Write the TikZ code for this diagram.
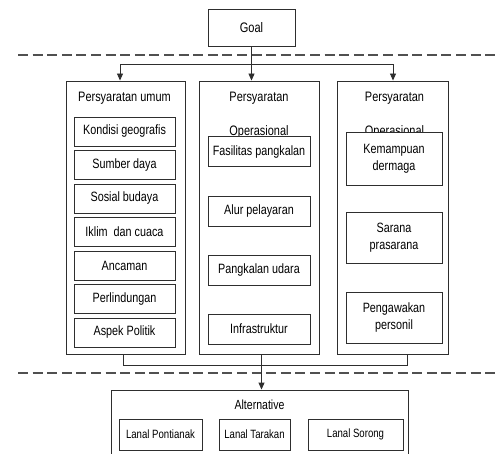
\documentclass[tikz,border=0pt]{standalone}
\usepackage{fontspec}
\setmainfont{Liberation Sans}[FakeStretch=0.8]
\usetikzlibrary{arrows.meta}
\definecolor{linec}{HTML}{2E2E2E}
\definecolor{dashc}{HTML}{505050}
\begin{document}
\begin{tikzpicture}[x=1pt,y=-1pt,
  box/.style={draw=linec, line width=0.9pt, fill=white, inner sep=0pt, align=center,
    font=\fontsize{13.5}{17}\selectfont},
  hdr/.style={inner sep=0pt, anchor=base, font=\fontsize{13.7}{16}\selectfont},
  conn/.style={draw=linec, line width=0.9pt},
  arr/.style={conn, -{Triangle[length=7pt,width=6pt]}},
  dashline/.style={draw=dashc, line width=1.8pt, dash pattern=on 10pt off 4.6pt}]
\useasboundingbox (0,0) rectangle (500,454);
\clip (0,0) rectangle (500,454);

% dashed separators
\coordinate (d1a) at (18,55); \coordinate (d1b) at (500,55);
\coordinate (d2a) at (18,373); \coordinate (d2b) at (500,373);
\draw[dashline] (d1a) -- (d1b);
\draw[dashline] (d2a) -- (d2b);

% goal
\node[box, minimum width=87pt, minimum height=37pt, font=\fontsize{13.8}{16}\selectfont] (goal) at (251.5,27.5) {Goal};

% columns
\node[box, minimum width=119pt, minimum height=273pt] (col1) at (125.5,217.5) {};
\node[box, minimum width=120pt, minimum height=273pt] (col2) at (259,217.5) {};
\node[box, minimum width=111pt, minimum height=273pt] (col3) at (392.5,217.5) {};

\node[hdr] (h1) at (124.5,102) {Persyaratan umum};
\node[hdr] (h2) at (259,102) {Persyaratan};
\node[hdr] (h2b) at (259,135.5) {Operasional};
\node[hdr] (h3) at (394.5,102) {Persyaratan};
\node[hdr] (h3b) at (394.5,135.5) {Operasional};

% column 1 items
\foreach \t/\y [count=\i] in {Kondisi geografis/131.5, Sumber daya/165, Sosial budaya/198.5,
  Iklim\ \ dan cuaca/232, Ancaman/265.5, Perlindungan/299, Aspek Politik/332.5}
  \node[box, minimum width=101pt, minimum height=29pt] (a\i) at (124.5,\y) {\t};

% column 2 items
\foreach \t/\y [count=\i] in {Fasilitas pangkalan/151.7, Alur pelayaran/211.5,
  Pangkalan udara/270.5, Infrastruktur/329}
  \node[box, minimum width=102pt, minimum height=30pt] (b\i) at (259,\y) {\t};

% column 3 items
\node[box, minimum width=96pt, minimum height=53pt] (c1) at (394,158.5) {Kemampuan\\dermaga};
\node[box, minimum width=96pt, minimum height=51pt] (c2) at (394,238) {Sarana\\prasarana};
\node[box, minimum width=96pt, minimum height=51pt] (c3) at (394,317.5) {Pengawakan\\personil};

% alternative
\node[box, minimum width=297pt, minimum height=90pt] (alt) at (259.5,435) {};
\node[hdr, font=\fontsize{13.2}{16}\selectfont] (alth) at (259.5,409.5) {Alternative};
\node[box, minimum width=83pt, minimum height=31pt, font=\fontsize{12}{14}\selectfont] (l1) at (160.5,434.5) {Lanal Pontianak};
\node[box, minimum width=71pt, minimum height=31pt, font=\fontsize{12}{14}\selectfont] (l2) at (254.5,434.5) {Lanal Tarakan};
\node[box, minimum width=95pt, minimum height=31pt, font=\fontsize{12}{14}\selectfont] (l3) at (355.5,434.5) {Lanal Sorong};

% connectors top
\draw[conn] (goal.south) -- ++(0,18) coordinate (hub);
\draw[arr] (hub) -| ([xshift=-5.5pt]col1.north);
\draw[arr] (hub) -| ([xshift=0.5pt]col3.north);
\draw[arr] (hub) -- (hub |- col2.north);

% connectors bottom
\draw[conn] ([xshift=-2.5pt]col1.south) -- ++(0,11) -| ([xshift=15pt]col3.south);
\draw[arr] ([xshift=2.5pt]col2.south) -- ([xshift=2.5pt]col2.south |- alt.north);
\end{tikzpicture}
\end{document}
